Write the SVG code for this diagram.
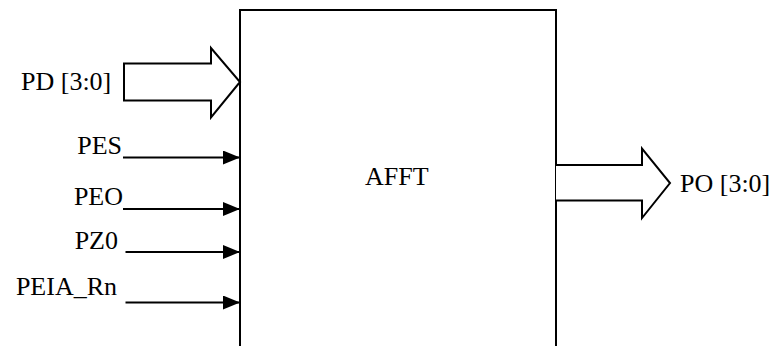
<svg xmlns="http://www.w3.org/2000/svg" width="775" height="346" viewBox="0 0 775 346">
<style>
.t{font-family:'Liberation Serif','Times New Roman',Times,serif;font-size:26px;fill:#000}
.box{fill:#fff;stroke:#000;stroke-width:2}
.bus{fill:#fff;stroke:#000;stroke-width:2;stroke-linejoin:miter}
.sig{stroke:#000;stroke-width:2.2;fill:none}
</style>
<defs>
<marker id="ah" markerUnits="userSpaceOnUse" markerWidth="18" markerHeight="14" refX="17" refY="7" orient="auto">
<path d="M0,0 L17,7 L0,14 Z" fill="#000"/>
</marker>
</defs>
<rect width="775" height="346" fill="#fff"/>
<g id="afft">
<rect class="box" x="240" y="10" width="316" height="350"/>
<text class="t" x="365" y="185">AFFT</text>
</g>
<g id="connectors">
<path id="pd-bus" class="bus" d="M124,63.5 H211 V48 L240,82 L211,117.5 V100.5 H124 Z"/>
<path id="po-bus" class="bus" d="M556,165 H642 V148.5 L670,183 L642,218 V200.5 H556"/>
<line class="sig" x1="123" y1="157.5" x2="240" y2="157.5" marker-end="url(#ah)"/>
<line class="sig" x1="123" y1="209" x2="240" y2="209" marker-end="url(#ah)"/>
<line class="sig" x1="125.5" y1="252" x2="240" y2="252" marker-end="url(#ah)"/>
<line class="sig" x1="125.5" y1="302.5" x2="240" y2="302.5" marker-end="url(#ah)"/>
</g>
<g id="pd"><text class="t" x="21" y="89.5">PD [3:0]</text></g>
<g id="po"><text class="t" x="680" y="192">PO [3:0]</text></g>
<g id="pes"><text class="t" x="122" y="154" text-anchor="end">PES</text></g>
<g id="peo"><text class="t" x="123" y="205" text-anchor="end">PEO</text></g>
<g id="pz0"><text class="t" x="118" y="249" text-anchor="end">PZ0</text></g>
<g id="peia"><text class="t" x="117" y="294.5" text-anchor="end">PEIA_Rn</text></g>
</svg>
